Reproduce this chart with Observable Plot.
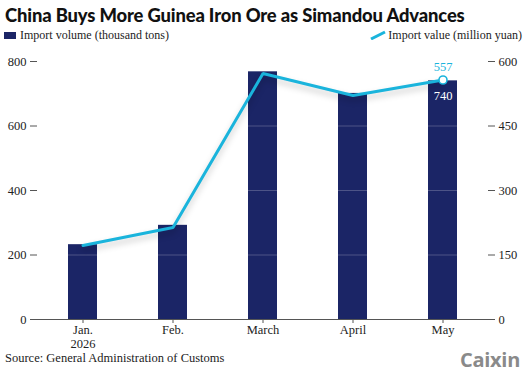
<!DOCTYPE html>
<html>
<head>
<meta charset="utf-8">
<script src="https://cdn.jsdelivr.net/npm/d3@7"></script>
<script src="https://cdn.jsdelivr.net/npm/@observablehq/plot@0.6"></script>
<style>
  body { margin: 0; background: #fff; width: 527px; height: 373px; overflow: hidden; position: relative; }
  #head { position: relative; height: 46px; }
  #title { position: absolute; left: 5px; top: 4px; font-family: Lato, sans-serif; font-weight: 900; font-size: 18.4px; color: #111; letter-spacing: -0.15px; white-space: nowrap; }
  .leg { position: absolute; top: 28px; font-family: "Liberation Serif", serif; font-size: 12px; color: #222; white-space: nowrap; }
  #foot { position: absolute; left: 0; top: 350px; width: 527px; height: 23px; }
  #source { position: absolute; left: 5px; top: 1px; font-family: "Liberation Serif", serif; font-size: 12.5px; color: #222; }
  #logo { position: absolute; right: 7px; top: -4px; font-family: "Open Sans", sans-serif; font-weight: 700; font-size: 20px; color: #8a8a8a; letter-spacing: -0.3px; }
  svg text { font-family: "Liberation Serif", serif; }
</style>
</head>
<body>
<div id="head">
  <div id="title">China Buys More Guinea Iron Ore as Simandou Advances</div>
  <div class="leg" style="left:4px;"><svg width="13" height="9" style="vertical-align:-1px;margin-right:3px"><rect width="12" height="7" y="1" fill="#1b2566"></rect></svg>Import volume (thousand tons)</div>
  <div class="leg" style="right:5px;"><svg width="16" height="10" style="vertical-align:-1px;margin-right:2px"><line x1="1" y1="9" x2="15" y2="2" stroke="#1ab4dc" stroke-width="3"></line></svg>Import value (million yuan)</div>
</div>
<div id="chart"></div>
<div id="foot">
  <div id="source">Source: General Administration of Customs</div>
  <div id="logo">Caixin</div>
</div>
<script>
const months = ["Jan.\n2026", "Feb.", "March", "April", "May"];
const volume = [232, 292, 768, 701, 740];   // thousand tons (left axis)
const value = [172, 214, 572, 521, 557];    // million yuan (right axis)
const leftTicks = [0, 200, 400, 600, 800];
const rightTicks = [0, 150, 300, 450, 600];

const navy = "#1b2566";
const cyan = "#1ab4dc";
const k = 800 / 600; // right axis units onto the shared y scale

const data = months.map((m, i) => ({month: m, volume: volume[i], value: value[i]}));
const last = [data[data.length - 1]];

const chart = Plot.plot({
  width: 527,
  height: 304,
  marginTop: 15,
  marginBottom: 31,
  marginLeft: 37,
  marginRight: 40,
  x: {domain: months, paddingInner: 0.68, paddingOuter: 0.34, label: null},
  y: {domain: [0, 800], label: null},
  style: {fontFamily: "Liberation Serif, serif", fontSize: "12.5px", color: "#222", background: "transparent", overflow: "visible"},
  marks: [
    Plot.barY(data, {x: "month", y: "volume", fill: navy}),
    Plot.ruleY(leftTicks.slice(1), {stroke: "#fff", strokeOpacity: 0.22}),
    Plot.ruleY([0], {stroke: "#555", strokeWidth: 1, insetLeft: -7, insetRight: -5}),
    Plot.axisY({anchor: "left", ticks: leftTicks, tickSize: 7, tickPadding: 4, stroke: "#555", fill: "#222"}),
    Plot.axisY({anchor: "right", ticks: rightTicks.map(d => d * k), tickFormat: d => Math.round(d / k), tickSize: 7, tickPadding: 4, stroke: "#555", fill: "#222"}),
    Plot.axisX({tickSize: 4, tickPadding: 1, stroke: "#555", fill: "#222", lineHeight: 1.1}),
    Plot.line(data, {x: "month", y: d => d.value * k, stroke: cyan, strokeWidth: 3, strokeLinejoin: "miter"}),
    Plot.dot(last, {x: "month", y: d => d.value * k, r: 4, fill: "#fff", stroke: cyan, strokeWidth: 1.6}),
    Plot.text(last, {x: "month", y: d => d.value * k, text: d => String(d.value), dy: -13, fill: cyan, fontSize: 12.5}),
    Plot.text(last, {x: "month", y: "volume", text: d => String(d.volume), dy: 15, fill: "#fff", fontSize: 12.5})
  ]
});

// soft drop shadow under the value line
d3.select(chart).selectAll("g[aria-label=line] path")
  .style("filter", "drop-shadow(0px 4px 3px rgba(0,0,0,0.22))");

document.getElementById("chart").appendChild(chart);
</script>
</body>
</html>
